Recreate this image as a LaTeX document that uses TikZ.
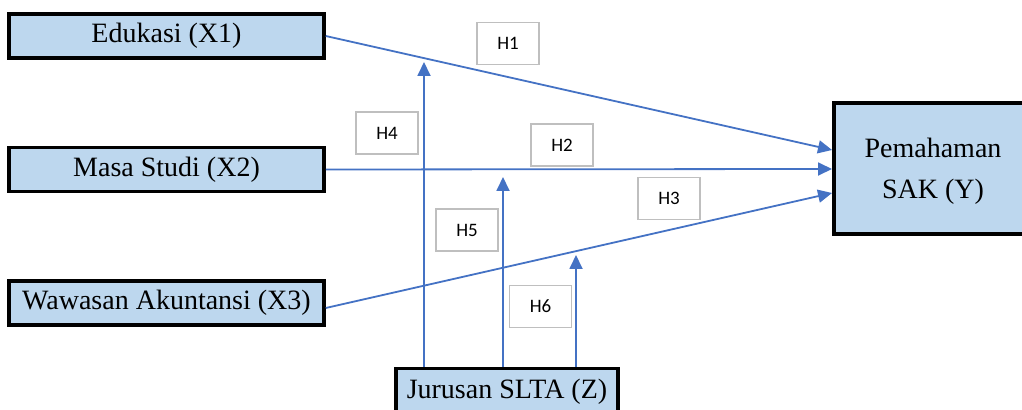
\documentclass[tikz,border=0pt]{standalone}
\usepackage{fontspec}
\setmainfont{Liberation Serif}
\newfontfamily\hfont{Carlito}
\usetikzlibrary{calc,arrows.meta}

\definecolor{boxblue}{RGB}{189,215,238}
\definecolor{lineblue}{RGB}{68,114,196}
\definecolor{hgray}{RGB}{191,191,191}

\tikzset{
  var/.style={draw=black, line width=1.75pt, fill=boxblue, inner sep=0pt,
    minimum height=22pt, font=\fontsize{14}{20.5}\selectfont, align=center},
  hyp/.style={draw=hgray, line width=0.7pt, fill=white, inner sep=0pt,
    minimum width=31pt, minimum height=21pt, font=\hfont\fontsize{9.5}{11}\selectfont},
  link/.style={draw=lineblue, line width=0.9pt, -{Triangle[length=7pt,width=6.5pt]}}
}

\begin{document}
\begin{tikzpicture}[x=0.5pt,y=-0.5pt]

\useasboundingbox (0,0) rectangle (1022,410);
\clip (0,0) rectangle (1022,410);

% Variable boxes
\node[var, minimum width=157.5pt] (x1) at (166.5,36) {Edukasi (X1)};
\node[var, minimum width=157.5pt] (x2) at (166.5,169.5) {Masa Studi (X2)};
\node[var, minimum width=157.5pt] (x3) at (166.5,303) {Wawasan Akuntansi (X3)};
% Y and Z run past the edge of the picture
\node[var, anchor=west, minimum width=120pt, minimum height=65.5pt] (y) at (832,168.5) {};
\node[font=\fontsize{14}{20.5}\selectfont, align=center] (ytext) at (933,171) {Pemahaman\\SAK (Y)};
\node[var, anchor=north, minimum width=111pt, minimum height=30pt] (z) at (507,367) {};
\node[font=\fontsize{14}{20.5}\selectfont] (ztext) at (507,392) {Jurusan SLTA (Z)};

% Points where the moderation arrows stop
\coordinate (m1) at (424,62);
\coordinate (m2) at (503,177);
\coordinate (m3) at (576,255);

% Direct effects
\draw[link] (x1.east) -- ($(y.west)+(0,-18.5)$);
\draw[link] (x2.east) -- ($(y.west)+(0,0.5)$);
\draw[link] ($(x3.east)+(0,5)$) -- ($(y.west)+(0,24.5)$);

% Moderation by Z
\draw[link] (m1 |- z.north) -- (m1);
\draw[link] (m2 |- z.north) -- (m2);
\draw[link] (m3 |- z.north) -- (m3);

% Hypothesis labels
\node[hyp] (h1) at (508,43.5) {H1};
\node[hyp] (h2) at (562,145) {H2};
\node[hyp] (h3) at (669,198.5) {H3};
\node[hyp] (h4) at (387,133) {H4};
\node[hyp] (h5) at (467,230) {H5};
\node[hyp] (h6) at (540.5,306.5) {H6};

\end{tikzpicture}
\end{document}
